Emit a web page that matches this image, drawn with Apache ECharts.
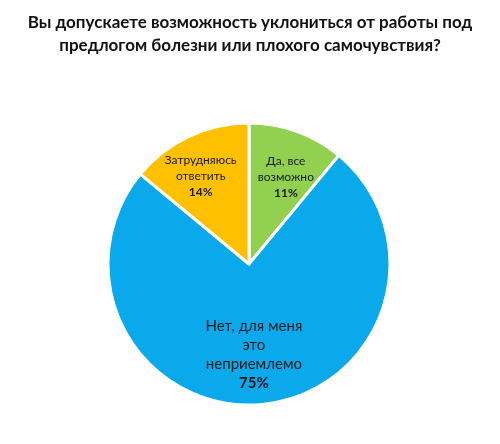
<!DOCTYPE html>
<html><head><meta charset="utf-8">
<script src="https://cdn.jsdelivr.net/npm/echarts@6/dist/echarts.min.js"></script>
<style>html,body{margin:0;padding:0;background:#fff}#c{width:500px;height:444px}</style>
</head><body><div id="c"></div>
<script>
const titleLines = ['Вы допускаете возможность уклониться от работы под', 'предлогом болезни или плохого самочувствия?'];
const categories = ['Да, все\nвозможно', 'Нет, для меня\nэто\nнеприемлемо', 'Затрудняюсь\nответить'];
const values = [11, 75, 14];
const colors = ['#92D050', '#0AA9EC', '#FFC000'];

const labelOffsets = [[12, -18], [-2, 17], [-17, -21]];
const chart = echarts.init(document.getElementById('c'), null, {renderer: 'canvas'});
const FONT = 'Lato, "Open Sans", sans-serif';
chart.setOption({
  animation: false,
  title: {
    text: titleLines.join('\n'),
    left: 'center', top: 6,
    textStyle: {fontFamily: FONT, fontSize: 17, fontWeight: 'bold', color: '#111', lineHeight: 23}
  },
  series: [{
    type: 'pie',
    center: [249, 264],
    radius: 141,
    startAngle: 90,
    clockwise: true,
    itemStyle: {borderColor: '#fff', borderWidth: 3},
    data: categories.map((c, i) => ({
      name: c, value: values[i],
      itemStyle: {color: colors[i]},
      label: i === 1 ? {
        offset: labelOffsets[i],
        fontSize: 15, lineHeight: 19,
        rich: {p: {fontSize: 15, fontWeight: 'bold', fontFamily: FONT, color: '#111', lineHeight: 19}}
      } : {offset: labelOffsets[i]}
    })),
    label: {
      show: true, position: 'inside',
      formatter: p => p.name + '\n{p|' + p.value + '%}',
      fontFamily: FONT, fontSize: 12, lineHeight: 16, color: '#1a1a1a', align: 'center',
      rich: {p: {fontSize: 12, fontWeight: 'bold', fontFamily: FONT, color: '#1a1a1a', lineHeight: 16}}
    },
    labelLine: {show: false}
  }]
});
</script></body></html>
